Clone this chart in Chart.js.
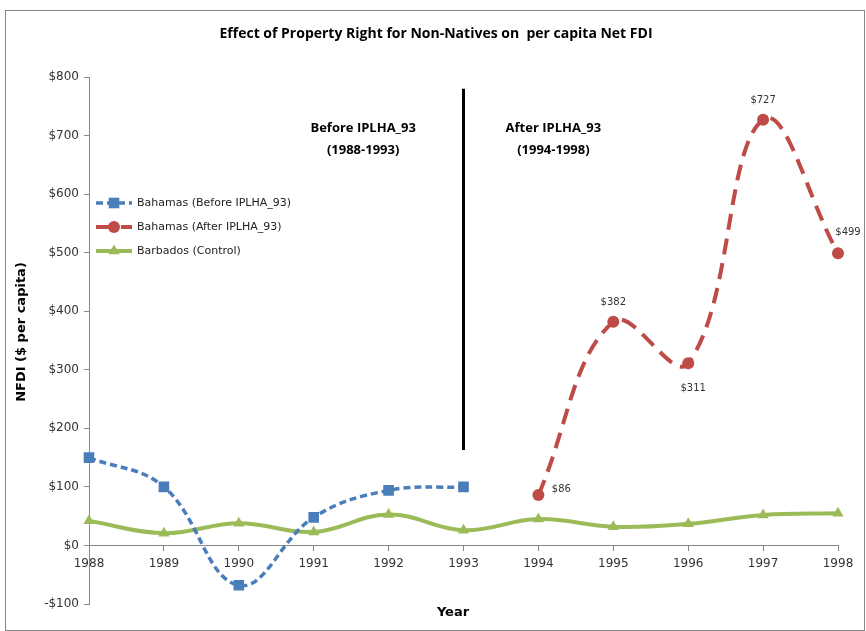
<!DOCTYPE html>
<html>
<head>
<meta charset="utf-8">
<script src="https://cdn.jsdelivr.net/npm/chart.js@4"></script>
<style>
  body { margin: 0; background: #fff; }
</style>
</head>
<body>
<canvas id="fdiChart" width="866" height="631"></canvas>
<script>
// years on the x axis
var years = ["1988", "1989", "1990", "1991", "1992", "1993", "1994", "1995", "1996", "1997", "1998"];
// Bahamas before the law (1988-1993)
var bahamasBefore = [150, 100, -68, 48, 94, 100, null, null, null, null, null];
// Bahamas after the law (1994-1998)
var bahamasAfter = [null, null, null, null, null, null, 86, 382, 311, 727, 499];
// Barbados control group
var barbados = [42, 21, 38, 23, 53, 26, 45, 32, 37, 52, 55];

var yTicks = [-100, 0, 100, 200, 300, 400, 500, 600, 700, 800];

function money(v) {
    return v < 0 ? '-$' + Math.abs(v) : '$' + v;
}

var decorations = {
    id: 'decorations',
    beforeDraw: function (chart) {
        var ctx = chart.ctx;
        ctx.save();
        ctx.fillStyle = '#fff';
        ctx.fillRect(0, 0, chart.width, chart.height);
        ctx.strokeStyle = '#878787';
        ctx.lineWidth = 1;
        ctx.strokeRect(5.5, 10.5, 859, 620);
        ctx.restore();
    },
    afterDraw: function (chart) {
        var ctx = chart.ctx;
        var x = chart.scales.x;
        var y = chart.scales.y;
        ctx.save();

        // title
        ctx.fillStyle = '#000';
        ctx.textAlign = 'center';
        ctx.textBaseline = 'middle';
        ctx.font = 'bold 14px "Open Sans"';
        ctx.fillText('Effect of Property Right for Non-Natives on  per capita Net FDI', 436, 34);

        // axis titles
        ctx.font = 'bold 13px "DejaVu Sans"';
        ctx.fillText('Year', 453, 613);
        ctx.save();
        ctx.translate(22, 332);
        ctx.rotate(-Math.PI / 2);
        ctx.fillText('NFDI ($ per capita)', 0, 0);
        ctx.restore();

        // divider at 1993
        var lx = x.getPixelForValue(5);
        ctx.strokeStyle = '#000';
        ctx.lineWidth = 3;
        ctx.beginPath();
        ctx.moveTo(lx, y.getPixelForValue(780));
        ctx.lineTo(lx, y.getPixelForValue(163));
        ctx.stroke();

        // period captions
        ctx.font = 'bold 13px "Open Sans"';
        ctx.fillText('Before IPLHA_93', x.getPixelForValue(3.66), y.getPixelForValue(713));
        ctx.fillText('(1988-1993)', x.getPixelForValue(3.66), y.getPixelForValue(675));
        ctx.fillText('After IPLHA_93', x.getPixelForValue(6.2), y.getPixelForValue(713));
        ctx.fillText('(1994-1998)', x.getPixelForValue(6.2), y.getPixelForValue(675));

        // value labels on the after series
        var meta = chart.getDatasetMeta(1);
        var place = { 6: [23, -6], 7: [0, -19], 8: [5, 25], 9: [0, -19], 10: [10, -21] };
        ctx.font = '10px "DejaVu Sans"';
        ctx.fillStyle = '#333';
        meta.data.forEach(function (pt, i) {
            var v = bahamasAfter[i];
            if (v === null) return;
            var off = place[i];
            ctx.fillText(money(v), pt.x + off[0], pt.y + off[1]);
        });

        // legend inside the plot
        var rows = [203, 227, 251];
        ctx.font = '11px "DejaVu Sans"';
        ctx.textAlign = 'left';
        chart.data.datasets.forEach(function (ds, i) {
            var ry = rows[i];
            ctx.save();
            ctx.strokeStyle = ds.borderColor;
            ctx.lineWidth = ds.borderWidth;
            ctx.setLineDash(ds.borderDash || []);
            ctx.beginPath();
            ctx.moveTo(96, ry);
            ctx.lineTo(132, ry);
            ctx.stroke();
            ctx.setLineDash([]);
            ctx.fillStyle = ds.backgroundColor;
            ctx.strokeStyle = ds.backgroundColor;
            ctx.lineWidth = 0.01;
            Chart.helpers.drawPoint(ctx, {
                pointStyle: ds.pointStyle,
                radius: ds.pointRadius,
                borderWidth: 0
            }, 114, ry);
            ctx.restore();
            ctx.fillStyle = '#222';
            ctx.fillText(ds.label, 137, ry);
        });
        ctx.restore();
    }
};

var chrt = document.getElementById("fdiChart").getContext("2d");
var chartId = new Chart(chrt, {
    type: 'line',
    data: {
        labels: years,
        datasets: [{
            label: "Bahamas (Before IPLHA_93)",
            data: bahamasBefore,
            borderColor: '#4A7EBB',
            backgroundColor: '#4A7EBB',
            borderWidth: 3.5,
            borderDash: [7, 4],
            pointStyle: 'rect',
            pointRadius: 7.5,
            pointBorderWidth: 0,
            tension: 0.4
        }, {
            label: "Bahamas (After IPLHA_93)",
            data: bahamasAfter,
            borderColor: '#BE4B48',
            backgroundColor: '#BE4B48',
            borderWidth: 4,
            borderDash: [16, 9],
            pointStyle: 'circle',
            pointRadius: 6,
            pointBorderWidth: 0,
            tension: 0.4
        }, {
            label: "Barbados (Control)",
            data: barbados,
            borderColor: '#9BBB59',
            backgroundColor: '#9BBB59',
            borderWidth: 4,
            pointStyle: 'triangle',
            pointRadius: 6.5,
            pointBorderWidth: 0,
            tension: 0.4
        }]
    },
    options: {
        responsive: false,
        animation: false,
        layout: {
            padding: { left: 29, right: 28, top: 77, bottom: 27 }
        },
        scales: {
            y: {
                min: -100,
                max: 800,
                afterFit: function (scale) { scale.width = 60; },
                afterBuildTicks: function (scale) {
                    scale.ticks = yTicks.map(function (v) { return { value: v }; });
                },
                ticks: {
                    padding: 5,
                    color: '#333',
                    font: { family: 'DejaVu Sans', size: 12 },
                    callback: function (val) { return money(val); }
                },
                grid: {
                    drawOnChartArea: false,
                    tickLength: 5,
                    color: '#878787'
                },
                border: { color: '#878787' }
            },
            x: {
                offset: false,
                position: { y: 0 },
                ticks: {
                    padding: 6,
                    color: '#333',
                    maxRotation: 0,
                    autoSkip: false,
                    font: { family: 'DejaVu Sans', size: 12 }
                },
                grid: {
                    drawOnChartArea: false,
                    tickLength: 5,
                    color: '#878787'
                },
                border: { color: '#878787' }
            }
        },
        plugins: {
            legend: { display: false },
            tooltip: { enabled: false }
        }
    },
    plugins: [decorations]
});
</script>
</body>
</html>
